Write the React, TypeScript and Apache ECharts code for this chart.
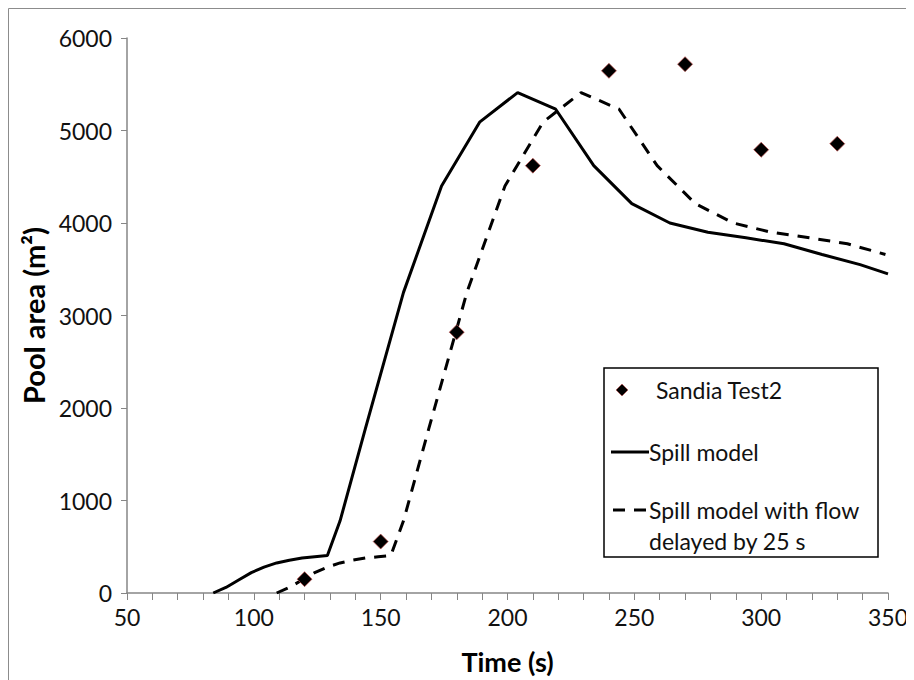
import React, { useEffect, useRef } from "react";
import * as echarts from "echarts";

const spillTime = [84, 89, 94, 99, 104, 109, 114, 119, 124, 129, 134, 144, 159, 174, 189, 204, 219, 234, 249, 264, 279, 294, 309, 324, 339, 350];
const spillArea = [0, 60, 140, 220, 280, 325, 355, 378, 392, 405, 780, 1780, 3250, 4400, 5090, 5410, 5230, 4620, 4210, 4000, 3900, 3840, 3775, 3660, 3550, 3450];

const delayedTime = [109, 114, 119, 124, 129, 134, 139, 144, 149, 154, 159, 169, 184, 199, 214, 229, 244, 259, 274, 289, 304, 319, 334, 349];
const delayedArea = [0, 60, 140, 220, 280, 325, 355, 378, 392, 405, 780, 1780, 3250, 4400, 5090, 5410, 5230, 4620, 4210, 4000, 3900, 3840, 3775, 3660];

const testTime = [120, 150, 180, 210, 240, 270, 300, 330];
const testArea = [150, 556, 2820, 4620, 5645, 5717, 4792, 4857];

const legendNames = ["Sandia Test2", "Spill model", "Spill model with flow", "delayed by 25 s"];

const FONT = "Lato, 'Open Sans', sans-serif";

export default function App() {
  const ref = useRef<HTMLDivElement>(null);
  useEffect(() => {
    if (!ref.current) return;
    const chart = echarts.init(ref.current, undefined, { renderer: "svg" });
    const zip = (a: number[], b: number[]) => a.map((v, i) => [v, b[i]]);
    const axisGrey = "#868686";
    const lx = 596, ly = 360;
    const legendFont = 23;
    chart.setOption({
      animation: false,
      backgroundColor: "#ffffff",
      grid: { left: 119, top: 30, right: 26, bottom: 85, containLabel: false },
      xAxis: {
        type: "value",
        min: 50,
        max: 350,
        interval: 50,
        name: "Time (s)",
        nameLocation: "middle",
        nameGap: 55,
        nameTextStyle: { fontFamily: FONT, fontSize: 27, fontWeight: "bold", color: "#000" },
        axisLine: { onZero: false, lineStyle: { color: axisGrey, width: 1.5 } },
        axisTick: { show: true, inside: false, length: 7, lineStyle: { color: axisGrey } },
        minorTick: { show: true, splitNumber: 5, length: 7, lineStyle: { color: axisGrey } },
        axisLabel: { fontFamily: FONT, fontSize: 23, color: "#111", margin: 12, formatter: (v: number) => String(v) },
        splitLine: { show: false },
      },
      yAxis: {
        type: "value",
        min: 0,
        max: 6000,
        interval: 1000,
        name: "Pool area (m²)",
        nameLocation: "middle",
        nameGap: 70,
        nameTextStyle: { fontFamily: FONT, fontSize: 29, fontWeight: "bold", color: "#000" },
        axisLine: { show: true, lineStyle: { color: axisGrey, width: 1.5 } },
        axisTick: { show: true, inside: false, length: 6, lineStyle: { color: axisGrey } },
        axisLabel: { fontFamily: FONT, fontSize: 23, color: "#111", margin: 15, formatter: (v: number) => String(v) },
        splitLine: { show: false },
      },
      series: [
        {
          name: "Spill model",
          type: "line",
          data: zip(spillTime, spillArea),
          showSymbol: false,
          symbol: "none",
          lineStyle: { color: "#000", width: 3 },
          z: 2,
        },
        {
          name: "Spill model with flow delayed by 25 s",
          type: "line",
          data: zip(delayedTime, delayedArea),
          showSymbol: false,
          symbol: "none",
          lineStyle: { color: "#000", width: 3, type: [12, 9] },
          z: 2,
        },
        {
          name: "Sandia Test2",
          type: "scatter",
          data: zip(testTime, testArea),
          symbol: "diamond",
          symbolSize: 15,
          itemStyle: { color: "#000", borderColor: "#c0504d", borderWidth: 0.7, opacity: 1 },
          z: 3,
        },
      ],
      graphic: [
        {
          type: "rect",
          shape: { x: 0.5, y: 0.5, width: 2000, height: 2000 },
          style: { fill: "none", stroke: "#8c8c8c", lineWidth: 1 },
          silent: true,
        },
        {
          type: "rect",
          shape: { x: lx, y: ly, width: 274, height: 189 },
          style: { fill: "#fff", stroke: "#000", lineWidth: 1.5 },
          z: 10,
        },
        {
          type: "polygon",
          shape: { points: [[lx + 18, ly + 16], [lx + 24, ly + 22], [lx + 18, ly + 28], [lx + 12, ly + 22]] },
          style: { fill: "#000", stroke: "#c0504d", lineWidth: 0.6 },
          z: 11,
        },
        {
          type: "text",
          x: lx + 52,
          y: ly + 22,
          style: { text: legendNames[0], fontFamily: FONT, fontSize: legendFont, fill: "#111", verticalAlign: "middle" },
          z: 11,
        },
        {
          type: "line",
          shape: { x1: lx + 7, y1: ly + 84, x2: lx + 45, y2: ly + 84 },
          style: { stroke: "#000", lineWidth: 3 },
          z: 11,
        },
        {
          type: "text",
          x: lx + 45,
          y: ly + 84,
          style: { text: legendNames[1], fontFamily: FONT, fontSize: legendFont, fill: "#111", verticalAlign: "middle" },
          z: 11,
        },
        {
          type: "line",
          shape: { x1: lx + 9, y1: ly + 142, x2: lx + 45, y2: ly + 142 },
          style: { stroke: "#000", lineWidth: 3, lineDash: [12, 9] },
          z: 11,
        },
        {
          type: "text",
          x: lx + 45,
          y: ly + 142,
          style: { text: legendNames[2], fontFamily: FONT, fontSize: legendFont, fill: "#111", verticalAlign: "middle" },
          z: 11,
        },
        {
          type: "text",
          x: lx + 45,
          y: ly + 173,
          style: { text: legendNames[3], fontFamily: FONT, fontSize: legendFont, fill: "#111", verticalAlign: "middle" },
          z: 11,
        },
      ],
    });
    return () => chart.dispose();
  }, []);
  return <div ref={ref} style={{ width: 906, height: 672 }} />;
}
